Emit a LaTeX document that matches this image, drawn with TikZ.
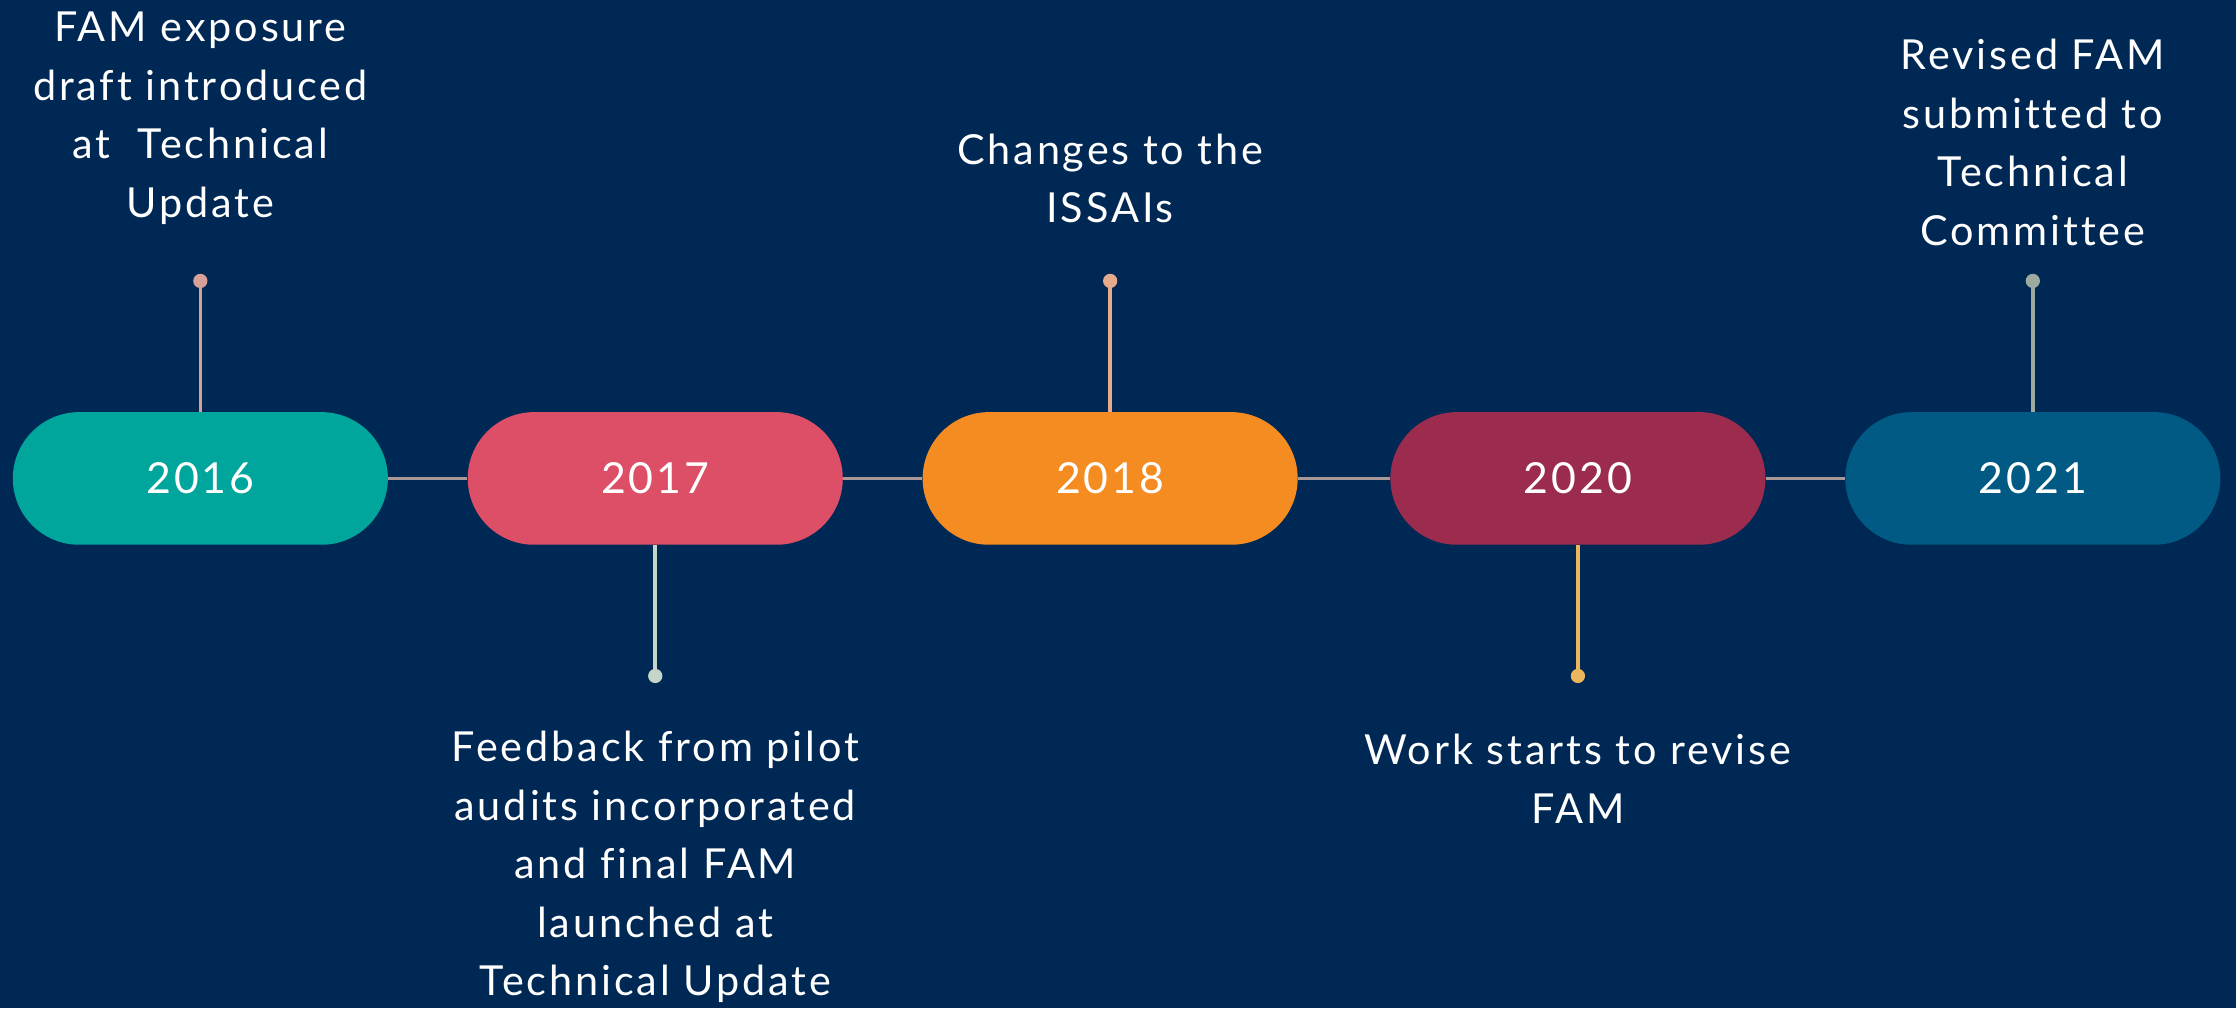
\documentclass[tikz,border=0pt]{standalone}
\usepackage{fontspec}
\setmainfont{Lato}[Ligatures=NoCommon, LetterSpace=7]
\usetikzlibrary{positioning}
\definecolor{bgnavy}{HTML}{002855}
\definecolor{cteal}{HTML}{00A59B}
\definecolor{cpink}{HTML}{DC4F67}
\definecolor{corange}{HTML}{F58C22}
\definecolor{cwine}{HTML}{9B2C4E}
\definecolor{cblue}{HTML}{005A83}
\definecolor{linkgray}{HTML}{A89898}
\definecolor{s16}{HTML}{D9A099}
\definecolor{s17}{HTML}{C5D6C8}
\definecolor{s18}{HTML}{E8AA8C}
\definecolor{s20}{HTML}{EDB55C}
\definecolor{s21}{HTML}{9DAA9F}
\tikzset{
  pill/.style={rectangle, rounded corners=46.5pt, minimum width=263pt, minimum height=93pt,
    inner sep=0pt, text=white, font=\fontsize{30}{36}\selectfont},
  dotnode/.style={circle, inner sep=0pt, minimum size=10pt},
  stem/.style={line width=2.5pt},
  link/.style={line width=2.5pt, linkgray},
  evtext/.style={text=white, align=center, inner sep=0pt, font=\fontsize{29}{41}\selectfont}
}
\begin{document}
\begin{tikzpicture}[x=1pt,y=-1pt]
\fill[bgnavy] (0,0) rectangle (1568,707);
\useasboundingbox (0,0) rectangle (1568,707);
% pills
\node[pill, fill=cteal]   (p16) at (140.5,335.5) {2016};
\node[pill, fill=cpink]   (p17) at (459.5,335.5) {2017};
\node[pill, fill=corange] (p18) at (778.5,335.5) {2018};
\node[pill, fill=cwine]   (p20) at (1106.5,335.5) {2020};
\node[pill, fill=cblue]   (p21) at (1425.5,335.5) {2021};
% links
\draw[link] (p16.east) -- (p17.west);
\draw[link] (p17.east) -- (p18.west);
\draw[link] (p18.east) -- (p20.west);
\draw[link] (p20.east) -- (p21.west);
% dots
\node[dotnode, fill=s16] (d16) at (140.5,197) {};
\node[dotnode, fill=s17] (d17) at (459.5,474) {};
\node[dotnode, fill=s18] (d18) at (778.5,197) {};
\node[dotnode, fill=s20] (d20) at (1106.5,474) {};
\node[dotnode, fill=s21] (d21) at (1425.5,197) {};
% stems
\draw[stem, s16] (p16.north) -- (d16.center);
\draw[stem, s17] (p17.south) -- (d17.center);
\draw[stem, s18] (p18.north) -- (d18.center);
\draw[stem, s20] (p20.south) -- (d20.center);
\draw[stem, s21] (p21.north) -- (d21.center);
% texts
\node[evtext] (t16) at (140.5,83) {FAM exposure\\draft introduced\\at\ \ Technical\\Update};
\node[evtext] (t18) at (778.5,125) {Changes to the\\ISSAIs};
\node[evtext] (t21) at (1425.5,100) {Revised FAM\\submitted to\\Technical\\Committee};
\node[evtext] (t17) at (459.5,608) {Feedback from pilot\\audits incorporated\\and final FAM\\launched at\\Technical Update};
\node[evtext] (t20) at (1106.5,546) {Work starts to revise\\FAM};
\end{tikzpicture}
\end{document}
